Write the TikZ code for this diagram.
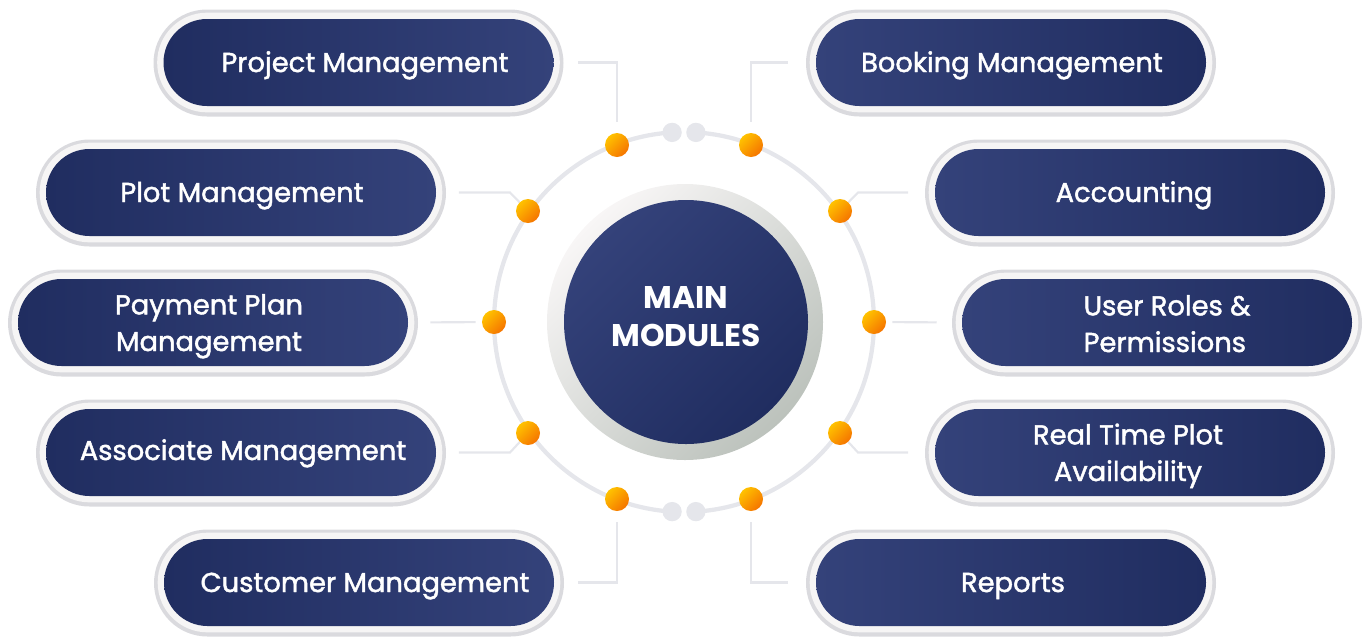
\documentclass[tikz,border=0pt]{standalone}
\usepackage{fontspec}
\setmainfont{Poppins}
\newfontfamily\pillfont{Poppins}[FakeBold=1.6]
\usetikzlibrary{shapes.misc}
\definecolor{navyL}{HTML}{34427A}
\definecolor{navyD}{HTML}{202D60}
\definecolor{ringO}{HTML}{DADADE}
\definecolor{ringI}{HTML}{F6F5F5}
\definecolor{lineG}{HTML}{E5E6EB}
\definecolor{orY}{HTML}{FFC200}
\definecolor{orD}{HTML}{F57400}
\definecolor{cRingL}{HTML}{F8F6F6}
\definecolor{cRingM}{HTML}{EEEDEC}
\definecolor{cRingD}{HTML}{BCC2BC}
\tikzset{
  ringout/.style={rounded rectangle, minimum width=307.5pt, minimum height=80.25pt, inner sep=0pt, fill=ringO},
  ringin/.style={rounded rectangle, minimum width=302pt, minimum height=74.75pt, inner sep=0pt, fill=ringI},
  pillbase/.style={rounded rectangle, minimum width=292.5pt, minimum height=65.25pt, inner sep=0pt},
  pillL/.style={pillbase, left color=navyD, right color=navyL},
  pillR/.style={pillbase, left color=navyL, right color=navyD},
  lbl/.style={text=white, font=\pillfont\fontsize{20.5}{27.5}\selectfont, anchor=base, align=center, inner sep=0pt},
  ctext/.style={text=white, font=\bfseries\fontsize{23.5}{28.5}\selectfont, anchor=base, align=center, inner sep=0pt},
  odot/.style={circle, minimum size=18pt, inner sep=0pt, top color=orY, bottom color=orD, shading angle=45},
  gdot/.style={circle, minimum size=14.5pt, inner sep=0pt, fill=lineG},
  conn/.style={draw=lineG, line width=1.6pt},
  orbit/.style={draw=lineG, line width=3.2pt},
}
\begin{document}
\begin{tikzpicture}[x=0.75pt,y=-0.75pt]
\useasboundingbox (0,0) rectangle (1371,637);
% orbit with grey end dots
\node[gdot] (g1) at (672.1,132.4) {};
\node[gdot] (g2) at (695.9,132.4) {};
\node[gdot] (g3) at (672.1,511.6) {};
\node[gdot] (g4) at (695.9,511.6) {};
\draw[orbit] (g1.center) arc[start angle=266.4, end angle=93.6, radius=190];
\draw[orbit] (g2.center) arc[start angle=273.6, end angle=446.4, radius=190];
% centre
\node[circle, minimum size=207pt, inner sep=0pt, top color=cRingL, middle color=cRingM, bottom color=cRingD, shading angle=45] (cring) at (685,322) {};
\node[circle, minimum size=183pt, inner sep=0pt, top color=navyL, bottom color=navyD, shading angle=45] (core) at (686,322) {};
\node[ctext] (ct) at (686,346) {MAIN\\MODULES};
% orange dots
\node[odot] (d1) at (617,145) {};
\node[odot] (d2) at (751,145) {};
\node[odot] (d3) at (528,211) {};
\node[odot] (d4) at (840,211) {};
\node[odot] (d5) at (494,322) {};
\node[odot] (d6) at (874,322) {};
\node[odot] (d7) at (528,433) {};
\node[odot] (d8) at (840,433) {};
\node[odot] (d9) at (617,499) {};
\node[odot] (d10) at (751,499) {};
% pills: rings
\foreach \x/\y in {358.5/62.5, 1011/62.5, 241/192.5, 1130/192.5, 213/322.5, 1157/322.5, 241/452.5, 1130/452.5, 359/582.5, 1011/582.5}{
  \node[ringout] at (\x,\y+0.5) {};
  \node[ringin] at (\x,\y) {};
}
% pills
\node[pillL] (p1) at (358.5,62.5) {};
\node[pillR] (p2) at (1011,62.5) {};
\node[pillL] (p3) at (241,192.5) {};
\node[pillR] (p4) at (1130,192.5) {};
\node[pillL] (p5) at (213,322.5) {};
\node[pillR] (p6) at (1157,322.5) {};
\node[pillL] (p7) at (241,452.5) {};
\node[pillR] (p8) at (1130,452.5) {};
\node[pillL] (p9) at (359,582.5) {};
\node[pillR] (p10) at (1011,582.5) {};
% labels
\node[lbl] (t1) at (365,72) {Project Management};
\node[lbl] (t2) at (1012,72) {Booking Management};
\node[lbl] (t3) at (242,202) {Plot Management};
\node[lbl] (t4) at (1134,202) {Accounting};
\node[lbl] (t5) at (209,351) {Payment Plan\\Management};
\node[lbl, align=left] (t6) at (1167,352) {User Roles \&\\Permissions};
\node[lbl] (t7) at (243,460) {Associate Management};
\node[lbl] (t8) at (1128,481) {Real Time Plot\\Availability};
\node[lbl] (t9) at (365,592) {Customer Management};
\node[lbl] (t10) at (1013,592) {Reports};
% connectors
\coordinate (k3) at (510,192.5);
\coordinate (k4) at (858,192.5);
\coordinate (k7) at (510,452.5);
\coordinate (k8) at (858,452.5);
\draw[conn, shorten <=18pt, shorten >=8pt] (p1.east) -| (d1.north);
\draw[conn, shorten <=21pt, shorten >=8pt] (p2.west) -| (d2.north);
\draw[conn, shorten <=17pt] (p3.east) -- (k3) -- (d3);
\draw[conn, shorten <=20pt] (p4.west) -- (k4) -- (d4);
\draw[conn, shorten <=16.5pt, shorten >=4.5pt] (p5.east) -- (d5);
\draw[conn, shorten <=18.75pt, shorten >=4.5pt] (p6.west) -- (d6);
\draw[conn, shorten <=17pt] (p7.east) -- (k7) -- (d7);
\draw[conn, shorten <=20pt] (p8.west) -- (k8) -- (d8);
\draw[conn, shorten <=18pt, shorten >=8pt] (p9.east) -| (d9.south);
\draw[conn, shorten <=21pt, shorten >=8pt] (p10.west) -| (d10.south);
\end{tikzpicture}
\end{document}
